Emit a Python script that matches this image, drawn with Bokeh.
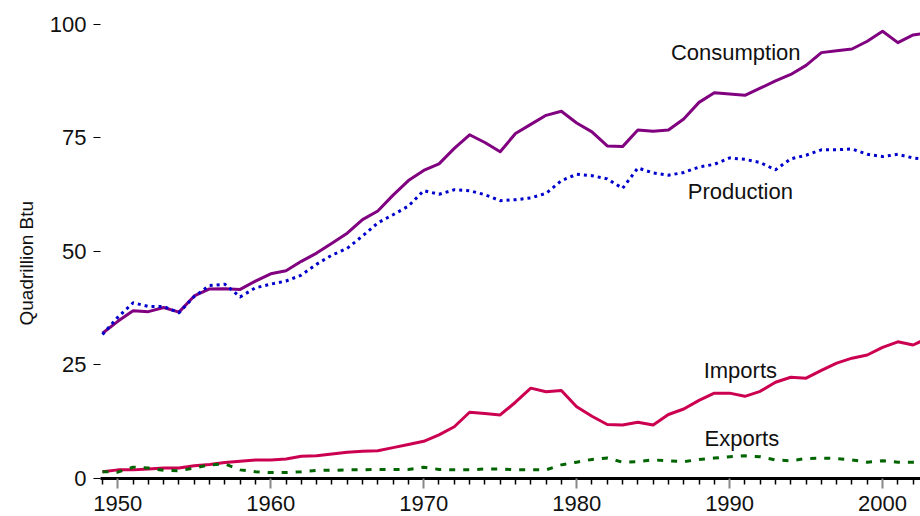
from bokeh.plotting import figure
from bokeh.models import FixedTicker, ColumnDataSource, Range1d, Title
from bokeh.core.properties import value
from bokeh.embed import file_html
from bokeh.resources import INLINE

years = list(range(1949, 2004))

consumption = [31.98, 34.62, 36.97, 36.75, 37.66, 36.64, 40.21, 41.75, 41.79, 41.65,
               43.47, 45.09, 45.74, 47.83, 49.65, 51.82, 54.02, 57.02, 58.91, 62.42,
               65.62, 67.84, 69.29, 72.70, 75.71, 74.00, 71.97, 75.98, 78.00, 79.99,
               80.90, 78.29, 76.34, 73.25, 73.10, 76.74, 76.47, 76.76, 79.20, 82.84,
               84.96, 84.67, 84.40, 85.96, 87.60, 89.00, 91.00, 93.80, 94.20, 94.60,
               96.30, 98.50, 96.00, 97.70, 98.20]

production = [31.7, 35.5, 38.7, 37.9, 37.9, 36.5, 40.1, 42.5, 42.8, 40.0,
              42.0, 42.8, 43.5, 44.8, 47.2, 49.2, 50.7, 53.4, 56.3, 58.1,
              60.0, 63.4, 62.6, 63.6, 63.4, 62.5, 61.2, 61.4, 61.8, 62.8,
              65.6, 67.0, 66.7, 66.0, 63.9, 68.4, 67.3, 66.8, 67.4, 68.6,
              69.2, 70.6, 70.3, 69.6, 68.0, 70.4, 71.2, 72.4, 72.4, 72.6,
              71.4, 70.9, 71.4, 70.6, 70.3]

imports = [1.5, 1.9, 1.9, 2.1, 2.3, 2.3, 2.8, 3.1, 3.5, 3.8,
           4.1, 4.1, 4.3, 4.9, 5.0, 5.4, 5.8, 6.0, 6.1, 6.8,
           7.5, 8.2, 9.6, 11.4, 14.6, 14.3, 14.0, 16.8, 19.9, 19.1,
           19.4, 15.8, 13.7, 11.9, 11.8, 12.4, 11.8, 14.1, 15.3, 17.2,
           18.8, 18.8, 18.1, 19.2, 21.2, 22.3, 22.1, 23.8, 25.4, 26.5,
           27.2, 28.9, 30.1, 29.4, 31.0]

exports = [1.5, 1.4, 2.5, 2.3, 1.8, 1.7, 2.3, 3.0, 3.2, 1.9,
           1.5, 1.3, 1.3, 1.5, 1.8, 1.8, 1.9, 1.9, 2.0, 2.0,
           2.0, 2.5, 2.0, 1.9, 1.9, 2.1, 2.1, 1.9, 1.9, 1.9,
           3.0, 3.6, 4.2, 4.5, 3.6, 3.7, 4.1, 3.9, 3.7, 4.2,
           4.5, 4.8, 5.0, 4.8, 4.1, 3.9, 4.4, 4.5, 4.4, 4.1,
           3.6, 3.9, 3.6, 3.6, 3.9]

label_text = ["Consumption", "Production", "Imports", "Exports"]
label_x = [1990.4, 1990.7, 1990.7, 1990.8]
label_y = [93.9, 63.3, 23.8, 8.9]

y_ticks = [0, 25, 50, 75, 100]
x_major = [1950, 1960, 1970, 1980, 1990, 2000]
x_minor = [y for y in range(1949, 2004) if y % 10 != 0]

FONT = "Liberation Sans"

p = figure(width=920, height=516, output_backend="svg", toolbar_location=None,
           x_range=Range1d(1948.87, 2002.48), y_range=Range1d(0, 103.52),
           min_border_left=100, min_border_right=0, min_border_top=8, min_border_bottom=38)
p.outline_line_color = None
p.xgrid.grid_line_color = None
p.ygrid.grid_line_color = None
p.background_fill_color = "white"
p.border_fill_color = "white"

src = ColumnDataSource(dict(year=years, cons=consumption, prod=production,
                            imp=imports, exp=exports))

p.line("year", "cons", source=src, line_color="#800080", line_width=3, line_join="round")
p.line("year", "prod", source=src, line_color="#0000CC", line_width=3,
       line_dash="3 4", line_join="round")
p.line("year", "imp", source=src, line_color="#CC0050", line_width=3, line_join="round")
p.line("year", "exp", source=src, line_color="#006400", line_width=3,
       line_dash="6 8", line_join="round")

p.text(x=label_x, y=label_y, text=label_text, text_font=value(FONT),
       text_font_size="22px", text_align="center", text_baseline="alphabetic",
       text_color="#111111")

xa = p.xaxis[0]
xa.ticker = FixedTicker(ticks=x_major, minor_ticks=x_minor)
xa.axis_line_width = 3
xa.axis_line_color = "black"
xa.major_tick_line_color = "#888888"
xa.major_tick_line_width = 2
xa.major_tick_in = 0
xa.major_tick_out = 10
xa.minor_tick_line_color = "black"
xa.minor_tick_line_width = 1.5
xa.minor_tick_in = 0
xa.minor_tick_out = 6
xa.major_label_text_font = FONT
xa.major_label_text_font_size = "22px"
xa.major_label_text_line_height = 0.8
xa.major_label_text_color = "#111111"
xa.major_label_standoff = 7

ya = p.yaxis[0]
ya.ticker = FixedTicker(ticks=y_ticks, minor_ticks=[])
ya.axis_line_color = None
ya.major_tick_line_color = "black"
ya.major_tick_line_width = 1
ya.major_tick_in = 0
ya.major_tick_out = 7
ya.minor_tick_line_color = None
ya.major_label_text_font = FONT
ya.major_label_text_font_size = "22px"
ya.major_label_text_color = "#111111"
ya.major_label_standoff = 7

ytitle = Title(text="Quadrillion Btu", align="left", offset=153,
               text_font=FONT, text_font_size="19px", text_font_style="normal",
               text_color="#111111", standoff=20)
p.add_layout(ytitle, "left")

open("out.html", "w").write(file_html(p, INLINE))
